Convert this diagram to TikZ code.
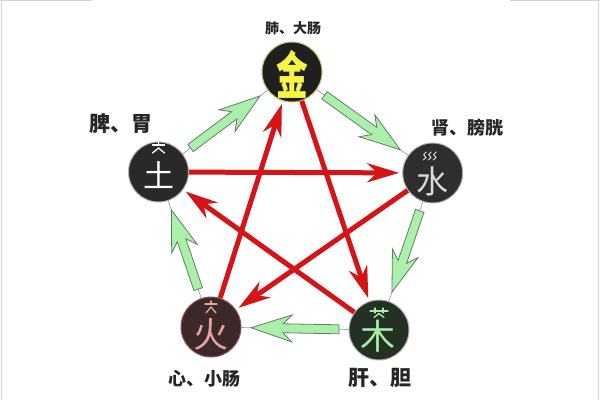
\documentclass[tikz,border=0pt]{standalone}
\usepackage{fontspec}
\newfontfamily\cjk{Noto Sans CJK SC}
\usetikzlibrary{arrows.meta,calc}
\definecolor{redc}{RGB}{212,20,22}
\definecolor{gfill}{RGB}{170,240,170}
\definecolor{gline}{RGB}{100,125,100}
\definecolor{yel}{RGB}{245,245,70}
\definecolor{pinkc}{RGB}{232,160,160}
\definecolor{lgreen}{RGB}{165,240,165}
\tikzset{
  elem/.style={circle, minimum size=60pt, inner sep=0pt, line width=1pt},
  lbl/.style={inner sep=0pt, text=black!85},
  glyph/.style={inner sep=0pt},
  redarrow/.style={draw=redc, line width=5pt, -{Stealth[length=32pt,width=19pt,inset=10pt]}, shorten >=3pt},
  thinlink/.style={draw=gray!75, line width=0.7pt},
  garrow/.style={fill=gfill, draw=gline, line width=0.8pt, line join=miter},
  glyphmark/.style={line width=1.3pt, line cap=round}
}
\newcommand\garrowdraw[2]{%
  \draw[thinlink] (#1) -- (#2);
  \coordinate (gs) at ($(#1.center)!40pt!(#2.center)$);
  \coordinate (ge) at ($(#2.center)!40pt!(#1.center)$);
  \path[garrow] let \p1=(gs), \p2=(ge), \n1={atan2(\y2-\y1,\x2-\x1)}, \n2={veclen(\x2-\x1,\y2-\y1)} in
    ($(\p1)+(\n1+90:4.5pt)$) -- ($(\p1)+(\n1:\n2-32pt)+(\n1+90:4.5pt)$) --
    ($(\p1)+(\n1:\n2-41pt)+(\n1+90:13.5pt)$) -- (\p2) --
    ($(\p1)+(\n1:\n2-41pt)+(\n1-90:13.5pt)$) -- ($(\p1)+(\n1:\n2-32pt)+(\n1-90:4.5pt)$) --
    ($(\p1)+(\n1-90:4.5pt)$) -- cycle;
}
\begin{document}
\begin{tikzpicture}[x=1pt,y=-1pt]
\fill[white] (0,0) rectangle (600,400);
\useasboundingbox (0,0) rectangle (600,400);
\draw[gray!35, line width=1pt] (1.5,0) -- (1.5,400) (598.5,0) -- (598.5,400) (0,0.5) -- (92,0.5) (510,0.5) -- (600,0.5);

% element circles
\node[elem, fill=black!88, draw=yellow!45!gray] (jin) at (292,72) {};
\node[elem, fill=black!84, draw=gray!60] (tu) at (158.5,172) {};
\node[elem, fill=black!82, draw=gray!60] (shui) at (432.7,173) {};
\node[elem, fill={rgb,255:red,60;green,40;blue,40}, draw={rgb,255:red,140;green,90;blue,90}] (huo) at (211,327) {};
\node[elem, fill={rgb,255:red,36;green,48;blue,36}, draw=gray!60] (mu) at (379,330) {};

% generating cycle (green)
\garrowdraw{tu}{jin}
\garrowdraw{jin}{shui}
\garrowdraw{shui}{mu}
\garrowdraw{mu}{huo}
\garrowdraw{huo}{tu}

% controlling cycle (red)
\draw[redarrow] (tu) -- (shui);
\draw[redarrow] (shui) -- (huo);
\draw[redarrow] (huo) -- (jin);
\draw[redarrow] (jin) -- (mu);
\draw[redarrow] (mu) -- (tu);

% glyphs
\node[glyph, text=yel, font=\cjk\bfseries\fontsize{51}{51}\selectfont] (gjin) at (292,74) {\scalebox{0.62}[1]{金}};
\node[glyph, text=white, font=\cjk\fontsize{31}{31}\selectfont] (gtu) at (158.5,175) {土};
\node[glyph, text=black!14, font=\cjk\fontsize{32}{32}\selectfont] (gshui) at (432,181) {水};
\node[glyph, text=pinkc, font=\cjk\fontsize{35}{35}\selectfont] (ghuo) at (211,334) {火};
\node[glyph, text=lgreen, font=\cjk\fontsize{35}{35}\selectfont] (gmu) at (378,336) {木};

% small marks
\begin{scope}[shift={(158.5,172)}, draw=white, glyphmark]
  \draw (-6,-27) -- (6,-27) (0,-29.5) -- (0,-27);
  \draw (-6,-19) -- (0,-24) -- (6,-19);
\end{scope}
\begin{scope}[shift={(432.7,173)}, draw=black!14, line width=1pt, line cap=round]
  \foreach \xx in {-8,-3,2} {
    \draw (\xx+1.5,-21) -- (\xx-1,-18.5) -- (\xx+1.2,-15.5) -- (\xx-1.5,-13);
  }
\end{scope}
\begin{scope}[shift={(211,327)}, draw=pinkc, glyphmark]
  \draw (-6,-23) -- (6,-23) (0,-26) -- (0,-23);
  \draw (-5,-14) -- (0,-20) -- (5,-14);
\end{scope}
\begin{scope}[shift={(379,330)}, draw=lgreen, glyphmark]
  \draw (-9,-19) -- (9,-19) (-4,-22) -- (-4,-17) (4,-22) -- (4,-17);
  \draw (-5,-12.5) -- (0,-16.5) -- (5,-12.5);
\end{scope}

% labels
\node[lbl, font=\cjk\bfseries\fontsize{14}{14}\selectfont] (ljin) at (293,28) {肺、大肠};
\node[lbl, font=\cjk\bfseries\fontsize{21}{21}\selectfont] (ltu) at (121,124) {脾、胃};
\node[lbl, font=\cjk\bfseries\fontsize{18}{18}\selectfont] (lshui) at (467,128) {肾、膀胱};
\node[lbl, font=\cjk\bfseries\fontsize{18}{18}\selectfont] (lhuo) at (204,379) {心、小肠};
\node[lbl, font=\cjk\bfseries\fontsize{21}{21}\selectfont] (lmu) at (380,378) {肝、胆};
\end{tikzpicture}
\end{document}
